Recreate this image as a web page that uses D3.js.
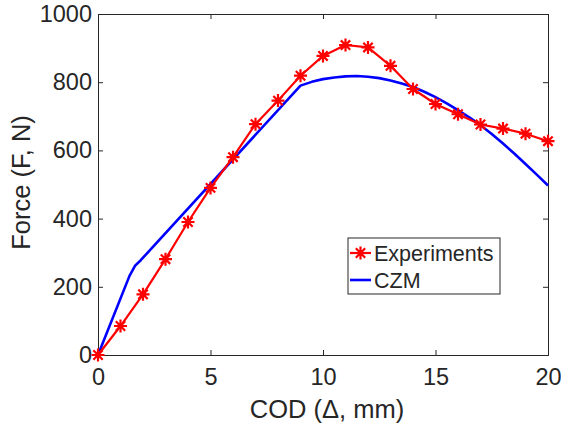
<!DOCTYPE html>
<html>
<head>
<meta charset="utf-8">
<script src="https://cdn.jsdelivr.net/npm/d3@7"></script>
<style>
  body { margin: 0; background: #fff; }
  svg text { font-family: "Liberation Sans", Arial, sans-serif; fill: #262626; }
</style>
</head>
<body>
<div id="chart"></div>
<script>
// data
var expCod = [0, 1, 2, 3, 4, 5, 6, 7, 8, 9, 10, 11, 12, 13, 14, 15, 16, 17, 18, 19, 20];
var expForce = [0, 85, 178, 281, 390, 490, 580, 677, 746, 819, 877, 909, 902, 848, 780, 736, 706, 676, 664, 649, 627];

var czmCod = [0, 1.4, 1.65, 1.9, 9, 9.5, 10, 10.5, 11, 11.5, 12, 12.5, 13, 13.5, 14, 14.5, 15, 15.5, 16, 16.5, 17, 17.5, 18, 18.5, 19, 19.5, 20];
var czmForce = [0, 232, 262, 278, 790, 801, 809, 814, 817, 818, 816, 812, 805, 796, 786, 772, 756, 738, 718, 697, 674, 648, 620, 591, 560, 529, 497];

var xTicks = [0, 5, 10, 15, 20];
var yTicks = [0, 200, 400, 600, 800, 1000];

var width = 561, height = 423;
var margin = { left: 98, right: 13, top: 14, bottom: 68 };
var axisColor = "#262626";
var font = "'Liberation Sans', Arial, sans-serif";

var svg = d3.select( "#chart" ).append( "svg" )
  .attr( "width", width ).attr( "height", height );

var x = d3.scaleLinear().domain( [ 0, 20 ] ).range( [ margin.left, width - margin.right ] );
var y = d3.scaleLinear().domain( [ 0, 1000 ] ).range( [ height - margin.bottom, margin.top ] );

// axes (ticks point inward, box on)
var gx = svg.append( "g" ).attr( "transform", "translate(0," + y( 0 ) + ")" )
  .call( d3.axisBottom( x ).tickValues( xTicks ).tickSize( -5 ).tickFormat( d3.format( "d" ) ) );
var gy = svg.append( "g" ).attr( "transform", "translate(" + x( 0 ) + ",0)" )
  .call( d3.axisLeft( y ).tickValues( yTicks ).tickSize( -5 ).tickPadding( 6 ).tickFormat( d3.format( "d" ) ) );
var gt = svg.append( "g" ).attr( "transform", "translate(0," + y( 1000 ) + ")" )
  .call( d3.axisTop( x ).tickValues( xTicks ).tickSize( -5 ).tickFormat( "" ) );
var gr = svg.append( "g" ).attr( "transform", "translate(" + x( 20 ) + ",0)" )
  .call( d3.axisRight( y ).tickValues( yTicks ).tickSize( -5 ).tickFormat( "" ) );

[ gx, gy, gt, gr ].forEach( function( g ) {
  g.selectAll( "path, line" ).attr( "stroke", axisColor ).attr( "stroke-width", 1 );
  g.selectAll( "text" ).attr( "fill", axisColor )
    .style( "font-size", "23.5px" ).style( "font-family", font );
} );
gx.selectAll( "text" ).attr( "y", 30 ).attr( "dy", 0 );

// axis titles
svg.append( "text" )
  .attr( "x", x( 10 ) + 4 ).attr( "y", 418 )
  .attr( "text-anchor", "middle" ).style( "font-size", "25.5px" )
  .text( "COD (\u0394, mm)" );
svg.append( "text" )
  .attr( "transform", "translate(30," + ( y( 500 ) - 2 ) + ") rotate(-90)" )
  .attr( "text-anchor", "middle" ).style( "font-size", "25.5px" )
  .text( "Force (F, N)" );

var expData = expCod.map( function( d, i ) { return [ d, expForce[ i ] ]; } );
var czmData = czmCod.map( function( d, i ) { return [ d, czmForce[ i ] ]; } );

var line = d3.line()
  .x( function( d ) { return x( d[ 0 ] ); } )
  .y( function( d ) { return y( d[ 1 ] ); } );

svg.append( "path" ).datum( czmData )
  .attr( "d", line )
  .attr( "fill", "none" ).attr( "stroke", "#0000ff" ).attr( "stroke-width", 2.6 )
  .attr( "stroke-linejoin", "round" );

svg.append( "path" ).datum( expData )
  .attr( "d", line )
  .attr( "fill", "none" ).attr( "stroke", "#ff0000" ).attr( "stroke-width", 2.2 )
  .attr( "stroke-linejoin", "round" );

// asterisk marker: plus + cross
function star( g, cx, cy, r ) {
  var s = r * 0.72;
  var p = "M" + ( cx - r ) + "," + cy + "L" + ( cx + r ) + "," + cy +
    "M" + cx + "," + ( cy - r ) + "L" + cx + "," + ( cy + r ) +
    "M" + ( cx - s ) + "," + ( cy - s ) + "L" + ( cx + s ) + "," + ( cy + s ) +
    "M" + ( cx - s ) + "," + ( cy + s ) + "L" + ( cx + s ) + "," + ( cy - s );
  g.append( "path" ).attr( "d", p ).attr( "stroke", "#ff0000" ).attr( "stroke-width", 2.2 )
    .attr( "fill", "none" );
}

var markers = svg.append( "g" );
expData.forEach( function( d ) { star( markers, x( d[ 0 ] ), y( d[ 1 ] ), 6.5 ); } );

// legend
var lg = svg.append( "g" );
lg.append( "rect" ).attr( "x", 348 ).attr( "y", 238 ).attr( "width", 152 ).attr( "height", 56 )
  .attr( "fill", "#fff" ).attr( "stroke", axisColor ).attr( "stroke-width", 1 );
lg.append( "line" ).attr( "x1", 350 ).attr( "x2", 371 ).attr( "y1", 253 ).attr( "y2", 253 )
  .attr( "stroke", "#ff0000" ).attr( "stroke-width", 2.2 );
star( lg, 360.5, 253, 6.5 );
lg.append( "line" ).attr( "x1", 350 ).attr( "x2", 371 ).attr( "y1", 280 ).attr( "y2", 280 )
  .attr( "stroke", "#0000ff" ).attr( "stroke-width", 2.6 );
lg.append( "text" ).attr( "x", 374 ).attr( "y", 253 ).attr( "dy", "0.35em" )
  .style( "font-size", "21.5px" ).attr( "fill", "#000" ).text( "Experiments" );
lg.append( "text" ).attr( "x", 374 ).attr( "y", 280 ).attr( "dy", "0.35em" )
  .style( "font-size", "21.5px" ).attr( "fill", "#000" ).text( "CZM" );
</script>
</body>
</html>
